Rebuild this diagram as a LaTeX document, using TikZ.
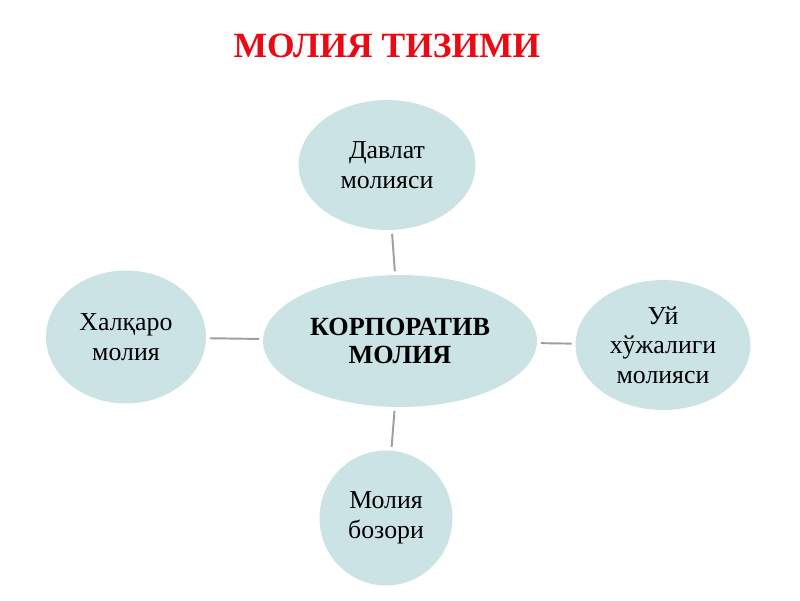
\documentclass[tikz,border=0pt]{standalone}
\usepackage{fontspec}
\setmainfont{Liberation Serif}
\usetikzlibrary{shapes.geometric}
\definecolor{bubble}{RGB}{204,227,230}
\definecolor{linkgray}{RGB}{150,160,165}
\definecolor{titlered}{RGB}{235,10,20}
\begin{document}
\begin{tikzpicture}[x=0.02cm,y=-0.02cm]
        \useasboundingbox (0,0) rectangle (800,600);

        \node[text=titlered,font=\bfseries\fontsize{20.2}{24}\selectfont] (title) at (387,46) {МОЛИЯ ТИЗИМИ};

        \begin{scope}[every node/.style={ellipse,fill=bubble,inner sep=0pt,align=center,
            font=\fontsize{14.7}{16.8}\selectfont}]
          \node[minimum width=5.48cm,minimum height=2.64cm,font=\bfseries\fontsize{14.9}{16}\selectfont]
                (corp)  at (400,341) {КОРПОРАТИВ\\МОЛИЯ};
          \node[minimum width=3.54cm,minimum height=2.6cm]  (state)  at (387,165) {Давлат\\молияси};
          \node[minimum width=3.2cm,minimum height=2.66cm]  (intl)   at (126,337) {Халқаро\\молия};
          \node[minimum width=3.5cm,minimum height=2.6cm]   (house)  at (663,345) {Уй\\хўжалиги\\молияси};
          \node[minimum width=2.66cm,minimum height=2.7cm]  (market) at (386,518) {Молия\\бозори};
        \end{scope}

        \begin{scope}[every edge/.style={draw=linkgray,line width=1.1pt,shorten <=2pt,shorten >=2pt}]
          \path (corp) edge (state);
          \path (corp) edge (intl);
          \path (corp) edge (house);
          \path (corp) edge (market);
        \end{scope}

      \end{tikzpicture}
\end{document}
